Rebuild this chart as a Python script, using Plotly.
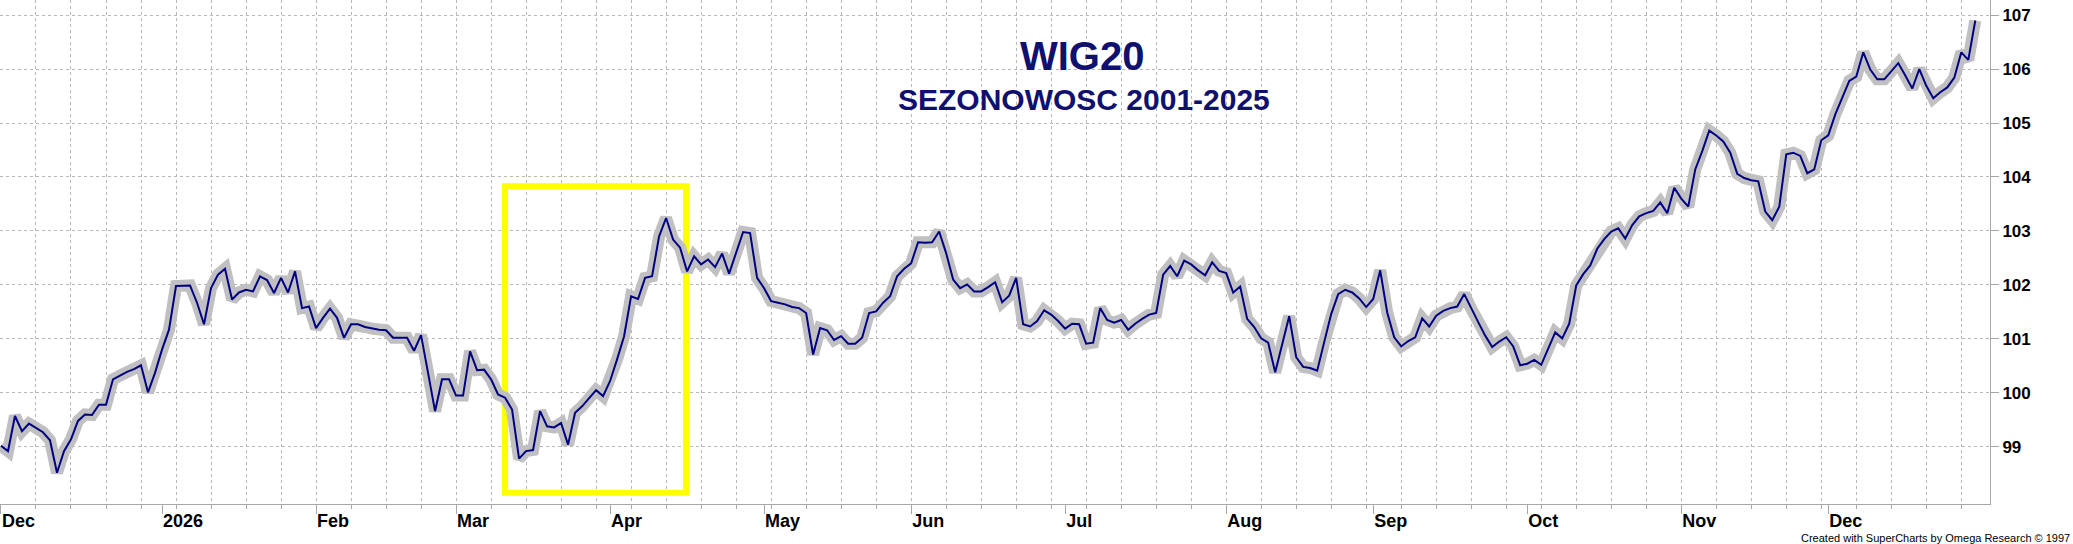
import numpy as np
import pandas as pd
import plotly.graph_objects as go

# ---------------- data ----------------
START_DATE = "2025-12-01"
VALUES = [
    99.02, 98.92, 99.57, 99.29, 99.43, 99.35, 99.27, 99.12, 98.52, 98.92,
    99.14, 99.48, 99.60, 99.59, 99.78, 99.78, 100.25, 100.32, 100.39, 100.44,
    100.51, 100.01, 100.37, 100.80, 101.17, 101.98, 101.99, 101.99, 101.67, 101.27,
    101.94, 102.19, 102.30, 101.73, 101.86, 101.91, 101.88, 102.16, 102.09, 101.85,
    102.13, 101.86, 102.25, 101.57, 101.60, 101.20, 101.39, 101.56, 101.39, 101.02,
    101.27, 101.27, 101.22, 101.19, 101.17, 101.16, 101.02, 101.02, 101.02, 100.78,
    101.07, 100.37, 99.66, 100.25, 100.25, 99.95, 99.95, 100.77, 100.42, 100.43,
    100.25, 99.97, 99.91, 99.69, 98.78, 98.92, 98.94, 99.66, 99.38, 99.36,
    99.44, 99.04, 99.63, 99.75, 99.89, 100.05, 99.94, 100.22, 100.62, 101.05,
    101.79, 101.74, 102.13, 102.16, 102.90, 103.24, 102.84, 102.69, 102.25, 102.53,
    102.38, 102.47, 102.33, 102.58, 102.21, 102.59, 102.98, 102.96, 102.13, 101.94,
    101.70, 101.67, 101.64, 101.59, 101.57, 101.48, 100.71, 101.20, 101.16, 100.98,
    101.05, 100.91, 100.91, 101.02, 101.48, 101.51, 101.67, 101.79, 102.16, 102.30,
    102.40, 102.79, 102.78, 102.79, 102.99, 102.59, 102.10, 101.94, 102.01, 101.88,
    101.88, 101.96, 102.05, 101.68, 101.80, 102.13, 101.27, 101.23, 101.33, 101.53,
    101.45, 101.33, 101.19, 101.28, 101.27, 100.91, 100.93, 101.57, 101.35, 101.30,
    101.35, 101.17, 101.28, 101.37, 101.45, 101.48, 102.19, 102.35, 102.16, 102.45,
    102.38, 102.27, 102.18, 102.42, 102.26, 102.22, 101.86, 101.97, 101.37, 101.22,
    101.01, 100.93, 100.38, 100.90, 101.42, 100.66, 100.48, 100.46, 100.41, 100.94,
    101.46, 101.83, 101.91, 101.86, 101.75, 101.59, 101.74, 102.27, 101.49, 101.03,
    100.86, 100.96, 101.03, 101.38, 101.23, 101.43, 101.52, 101.57, 101.60, 101.83,
    101.56, 101.31, 101.06, 100.85, 100.95, 101.03, 100.86, 100.51, 100.54, 100.61,
    100.52, 100.83, 101.12, 101.01, 101.28, 101.99, 102.20, 102.36, 102.67, 102.85,
    102.99, 103.05, 102.86, 103.11, 103.27, 103.33, 103.37, 103.53, 103.33, 103.80,
    103.60, 103.45, 104.14, 104.48, 104.86, 104.77, 104.66, 104.45, 104.06, 103.98,
    103.94, 103.92, 103.36, 103.20, 103.45, 104.42, 104.45, 104.39, 104.07, 104.14,
    104.68, 104.77, 105.16, 105.47, 105.78, 105.86, 106.31, 105.99, 105.81, 105.81,
    105.97, 106.11, 105.88, 105.64, 106.00, 105.69, 105.46, 105.57, 105.66, 105.84,
    106.31, 106.17, 106.90,
]
MONTH_LABELS = ["Dec", "2026", "Feb", "Mar", "Apr", "May", "Jun",
                "Jul", "Aug", "Sep", "Oct", "Nov", "Dec"]
Y_TICKS = [99, 100, 101, 102, 103, 104, 105, 106, 107]
TITLE = "WIG20"
SUBTITLE = "SEZONOWOSC 2001-2025"
FOOTER = "Created with SuperCharts by Omega Research \u00a9 1997"

# highlighted period (trading-day index and value bounds)
HL_X = (72.0, 97.85)
HL_Y = (98.15, 103.83)

# ---------------- build ----------------
dates = pd.bdate_range(START_DATE, periods=len(VALUES))
x = np.arange(len(VALUES))
months = dates.to_period("M")
month_idx = [int(i) for i in np.flatnonzero(np.r_[True, months[1:] != months[:-1]])]

NAVY = "#10106e"
GRAY = "#a8a8a8"
GRID = "#b8b8b8"

fig = go.Figure()
fig.add_trace(go.Scatter(
    x=x, y=VALUES, mode="lines",
    line=dict(color="#c0c0c2", width=12),
    hoverinfo="skip", showlegend=False,
))
fig.add_trace(go.Scatter(
    x=x, y=VALUES, mode="lines",
    line=dict(color="#000080", width=2),
    customdata=dates.strftime("%Y-%m-%d"),
    hovertemplate="%{customdata}: %{y:.2f}<extra></extra>",
    showlegend=False,
))

fig.add_shape(
    type="rect", xref="x", yref="y",
    x0=HL_X[0], x1=HL_X[1], y0=HL_Y[0], y1=HL_Y[1],
    line=dict(color="#ffff00", width=6), layer="between",
)

fig.add_annotation(
    text=f"<b>{TITLE}</b>", xref="paper", yref="paper",
    x=0.5437, y=0.889, xanchor="center", yanchor="middle", showarrow=False,
    font=dict(family="Liberation Sans, Arial, sans-serif", size=40, color=NAVY),
)
fig.add_annotation(
    text=f"<b>{SUBTITLE}</b>", xref="paper", yref="paper",
    x=0.5445, y=0.802, xanchor="center", yanchor="middle", showarrow=False,
    font=dict(family="Liberation Sans, Arial, sans-serif", size=30, color=NAVY),
)
fig.add_annotation(
    text=FOOTER, xref="paper", yref="paper",
    x=1.0412, y=-0.068, xanchor="right", yanchor="middle", showarrow=False,
    font=dict(family="Liberation Sans Narrow, Arial Narrow, Liberation Sans, sans-serif",
              size=11, color="#000000"),
)

fig.update_layout(
    width=2073, height=544, autosize=False,
    margin=dict(l=0, r=83, t=0, b=40),
    paper_bgcolor="white", plot_bgcolor="white",
    hovermode="closest",
    xaxis=dict(
        range=[-0.14, 284.1],
        tickmode="array", tickvals=month_idx, ticktext=MONTH_LABELS,
        ticks="outside", ticklen=9, tickcolor=GRAY, tickwidth=1,
        ticklabelposition="outside right",
        tickfont=dict(family="Liberation Sans Narrow, Arial Narrow, Liberation Sans, sans-serif",
                      size=18, color="#000000", weight="bold"),
        showgrid=False, zeroline=False,
        showline=True, linecolor=GRAY, linewidth=1,
        minor=dict(dtick=5, tick0=0, ticks="outside", ticklen=4, tickcolor=GRAY,
                   showgrid=True, gridcolor=GRID, griddash="dot", gridwidth=1),
    ),
    yaxis=dict(
        side="right",
        range=[97.94, 107.28],
        tickmode="array", tickvals=Y_TICKS,
        ticks="outside", ticklen=8, tickcolor=GRAY,
        tickfont=dict(family="Liberation Sans, Arial, sans-serif", size=17,
                      color="#000000", weight="bold"),
        showgrid=True, gridcolor=GRID, griddash="dot", gridwidth=1,
        zeroline=False,
        showline=True, linecolor=GRAY, linewidth=1,
    ),
)

fig.write_html(
    "out.html",
    config={"displayModeBar": False},
    post_script="document.body.style.margin='0';document.body.style.overflow='hidden';",
)
